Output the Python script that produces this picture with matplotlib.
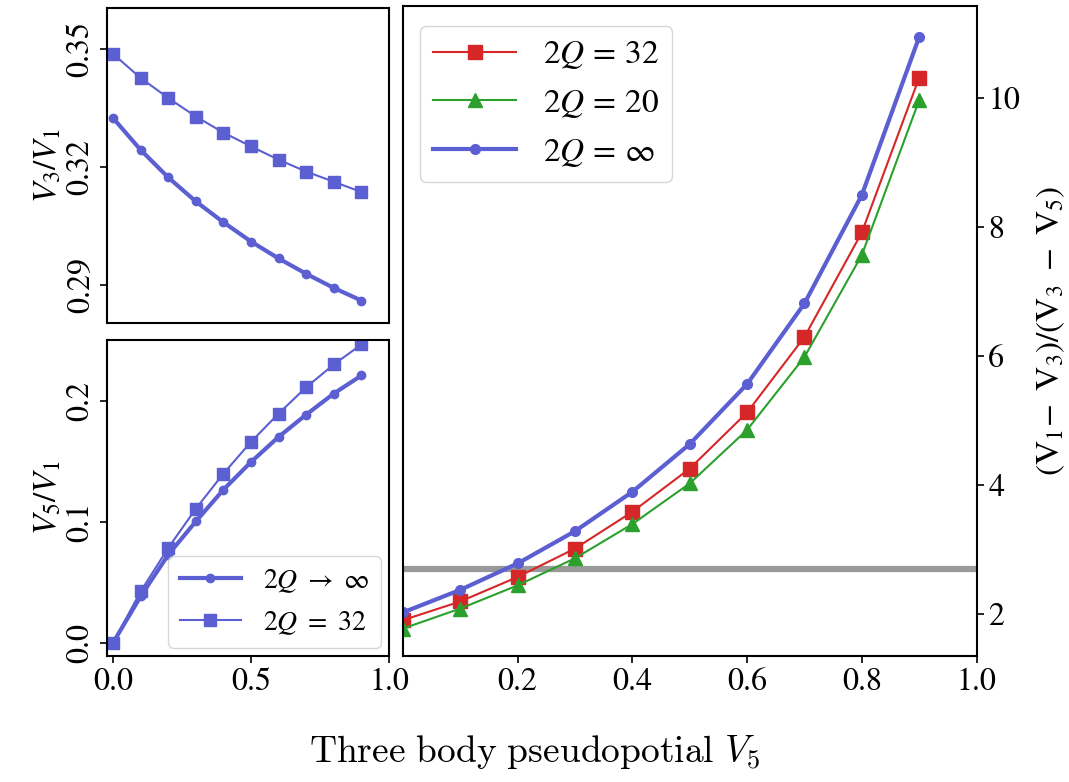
import matplotlib
matplotlib.use("Agg")
import matplotlib.pyplot as plt

plt.rcParams['font.family'] = ['STIXGeneral', 'DejaVu Serif']
plt.rcParams['mathtext.fontset'] = 'stix'

# x values: three body pseudopotential V5
v5 = [0.0, 0.1, 0.2, 0.3, 0.4, 0.5, 0.6, 0.7, 0.8, 0.9]

# main panel: (V1-V3)/(V3-V5)
ratio_32 = [1.90, 2.19, 2.57, 3.01, 3.58, 4.25, 5.12, 6.29, 7.91, 10.31]
ratio_20 = [1.77, 2.08, 2.44, 2.86, 3.39, 4.02, 4.85, 5.98, 7.56, 9.96]
ratio_inf = [2.02, 2.37, 2.78, 3.28, 3.89, 4.63, 5.56, 6.81, 8.49, 10.94]
threshold = 2.7

# insets: V3/V1 and V5/V1
v3_32 = [0.3487, 0.3426, 0.3375, 0.3328, 0.3287, 0.3252, 0.3218, 0.3188, 0.3162, 0.3136]
v3_inf = [0.3324, 0.3243, 0.3173, 0.3112, 0.3059, 0.3010, 0.2967, 0.2928, 0.2892, 0.2860]
v5_32 = [0.0, 0.0424, 0.0783, 0.1107, 0.1397, 0.1659, 0.1893, 0.2110, 0.2298, 0.2463]
v5_inf = [0.0, 0.0383, 0.0727, 0.1002, 0.1264, 0.1493, 0.1700, 0.1884, 0.2058, 0.2207]

blue = '#5b5fd1'
red = '#d62728'
green = '#2ca02c'

fig = plt.figure(figsize=(10.69, 7.82), dpi=100)

ax_top = fig.add_axes([0.1001, 0.5870, 0.2638, 0.4028])
ax_bot = fig.add_axes([0.1001, 0.1611, 0.2638, 0.4041])
ax = fig.add_axes([0.377, 0.1611, 0.5365, 0.8312])

# top inset
ax_top.plot(v5, v3_inf, '-o', color=blue, lw=3, ms=6)
ax_top.plot(v5, v3_32, '-s', color=blue, lw=1.5, ms=8)
ax_top.set_xlim(-0.022, 1.0)
ax_top.set_ylim(0.2803, 0.3604)
ax_top.set_yticks([0.29, 0.32, 0.35])
ax_top.set_yticklabels(['0.29', '0.32', '0.35'], rotation=90, va='center')
ax_top.set_xticks([])
ax_top.set_ylabel(r'$V_3/V_1$', fontsize=24, labelpad=2)

# bottom inset
ax_bot.plot(v5, v5_inf, '-o', color=blue, lw=3, ms=6, label=r'$2Q\ \rightarrow\ \infty$')
ax_bot.plot(v5, v5_32, '-s', color=blue, lw=1.5, ms=8, label=r'$2Q\ =\ 32$')
ax_bot.set_xlim(-0.022, 1.0)
ax_bot.set_ylim(-0.011, 0.25)
ax_bot.set_xticks([0.0, 0.5, 1.0])
ax_bot.set_yticks([0.0, 0.1, 0.2])
ax_bot.set_yticklabels(['0.0', '0.1', '0.2'], rotation=90, va='center')
ax_bot.set_ylabel(r'$V_5/V_1$', fontsize=24, labelpad=2)
ax_bot.legend(loc='lower right', fontsize=20, handlelength=2.2, framealpha=0.8,
              borderaxespad=0.3)

for a in (ax_top, ax_bot):
    a.tick_params(labelsize=23, width=1.2, length=5)
    for s in a.spines.values():
        s.set_linewidth(1.5)

# main panel
ax.axhline(threshold, color='#999999', lw=4.5, zorder=1)
ax.plot(v5, ratio_32, '-s', color=red, lw=1.5, ms=10, label=r'$2Q\,=\,32$')
ax.plot(v5, ratio_20, '-^', color=green, lw=1.5, ms=10, label=r'$2Q\,=\,20$')
ax.plot(v5, ratio_inf, '-o', color=blue, lw=3, ms=7, label=r'$2Q\,=\,\infty$')
ax.set_xlim(0, 1.0)
ax.set_ylim(1.344, 11.42)
ax.set_xticks([0.2, 0.4, 0.6, 0.8, 1.0])
ax.set_yticks([2, 4, 6, 8, 10])
ax.yaxis.tick_right()
ax.yaxis.set_label_position('right')
ax.tick_params(labelsize=23, width=1.2, length=5)
for s in ax.spines.values():
    s.set_linewidth(1.5)
ax.set_ylabel(r'$\mathrm{(V_1\!-\ V_3)/(V_3\ -\ V_5)}$', fontsize=24, labelpad=10)
ax.legend(loc='upper left', fontsize=24, handlelength=2.5, framealpha=0.8,
          bbox_to_anchor=(0.0, 0.995))

fig.text(0.5, 0.038, r'$\mathrm{Three\ body\ pseudopotial}\ V_5$',
         fontsize=27, ha='center', va='center', math_fontfamily='cm')

fig.savefig('out.png', dpi=100)
